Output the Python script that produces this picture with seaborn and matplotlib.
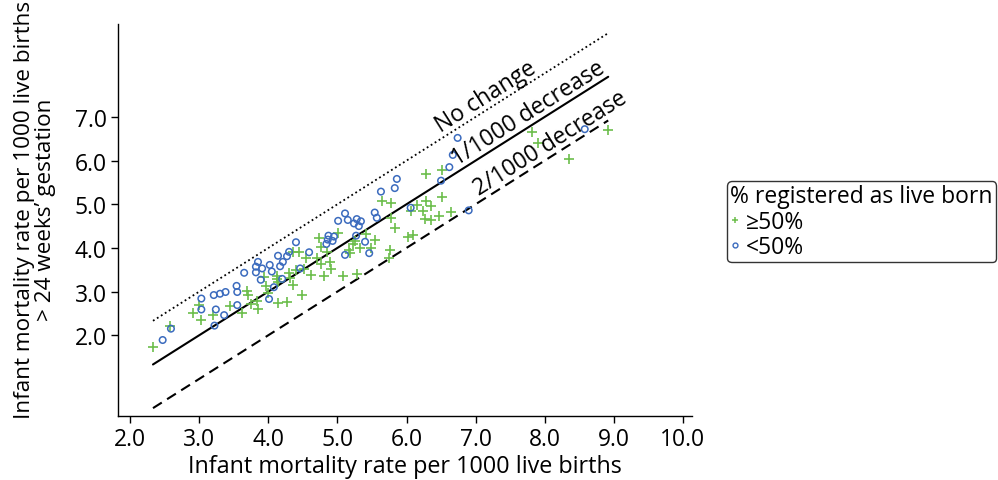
import matplotlib
matplotlib.use("Agg")
import matplotlib.pyplot as plt
import seaborn as sns
import pandas as pd
from matplotlib.lines import Line2D

sns.set_style("ticks")
plt.rcParams["font.family"] = ["Open Sans", "DejaVu Sans"]
for key in ["text.color", "axes.labelcolor", "xtick.color", "ytick.color",
            "axes.edgecolor"]:
    plt.rcParams[key] = "black"

# ---- data: >=50% registered as live born (green +) ----
hi_x = [2.33, 2.57, 2.91, 3.02, 3.00, 3.20, 3.45, 3.62, 3.69, 3.70,
        3.75, 3.84, 3.85, 3.93, 3.96, 4.00, 4.12, 4.12, 4.14, 4.14,
        4.27, 4.30, 4.31, 4.35, 4.35, 4.40, 4.44, 4.49, 4.51, 4.55,
        4.62, 4.71, 4.73, 4.76, 4.76, 4.81, 4.85, 4.89, 4.91, 5.01,
        5.08, 5.17, 5.18, 5.22, 5.26, 5.29, 5.32, 5.41, 5.49, 5.54,
        5.64, 5.78, 5.77, 5.84, 5.76, 5.75, 6.02, 6.09, 6.15, 6.07,
        6.24, 6.28, 6.36, 6.27, 6.35, 6.47, 6.65, 6.51, 6.51, 6.28,
        7.81, 7.91, 8.35, 8.92]
hi_y = [1.73, 2.20, 2.52, 2.34, 2.69, 2.46, 2.68, 2.52, 3.02, 2.93,
        2.71, 2.79, 2.60, 3.33, 3.13, 2.96, 3.36, 3.28, 3.22, 2.73,
        2.77, 3.42, 3.32, 3.15, 3.90, 3.50, 3.91, 2.93, 3.51, 3.78,
        3.38, 3.76, 4.22, 3.64, 4.03, 3.36, 3.90, 3.67, 3.51, 4.34,
        3.36, 3.95, 3.88, 4.09, 4.16, 3.40, 4.00, 4.32, 4.00, 4.18,
        5.08, 5.02, 4.69, 4.45, 3.96, 3.77, 4.26, 4.29, 4.99, 4.85,
        4.85, 5.08, 4.97, 4.66, 4.63, 4.73, 4.83, 5.16, 5.79, 5.70,
        6.66, 6.40, 6.03, 6.70]

# ---- data: <50% registered as live born (blue o) ----
lo_x = [2.47, 2.59, 3.03, 3.03, 3.24, 3.21, 3.30, 3.38, 3.36, 3.22,
        3.54, 3.55, 3.55, 3.65, 3.82, 3.85, 3.82, 3.89, 4.01, 4.02,
        3.91, 4.05, 4.17, 4.21, 4.08, 4.14, 4.27, 4.30, 4.40, 4.46,
        4.20, 4.59, 4.84, 4.86, 4.87, 4.93, 4.95, 5.11, 5.01, 5.11,
        5.15, 5.24, 5.28, 5.31, 5.34, 5.27, 5.40, 5.46, 5.54, 5.57,
        5.63, 5.83, 5.86, 6.06, 6.50, 6.62, 6.67, 6.74, 6.90, 8.58]
lo_y = [1.89, 2.15, 2.84, 2.59, 2.59, 2.92, 2.95, 2.99, 2.46, 2.22,
        3.13, 2.99, 2.69, 3.43, 3.57, 3.68, 3.44, 3.27, 2.83, 3.61,
        3.53, 3.46, 3.58, 3.68, 3.10, 3.82, 3.81, 3.91, 4.13, 3.53,
        3.29, 3.90, 4.09, 4.19, 4.28, 4.16, 4.26, 3.84, 4.62, 4.79,
        4.64, 4.56, 4.66, 4.50, 4.61, 4.28, 4.14, 3.88, 4.81, 4.69,
        5.29, 5.37, 5.58, 4.92, 5.54, 5.85, 6.13, 6.52, 4.86, 6.72]

x_ticks = [2.0, 3.0, 4.0, 5.0, 6.0, 7.0, 8.0, 9.0, 10.0]
y_ticks = [2.0, 3.0, 4.0, 5.0, 6.0, 7.0]
line_offsets = [0, 1, 2]               # decrease per 1000
line_labels = ["No change", "1/1000 decrease", "2/1000 decrease"]
label_x = [7.24, 7.86, 8.17]
group_labels = ["\u226550%", "<50%"]
legend_title = "% registered as live born"
x_label = "Infant mortality rate per 1000 live births"
y_label = "Infant mortality rate per 1000 live births\n> 24 weeks\u2019 gestation"

GREEN = "#6cbe4b"
BLUE = "#3b6bbe"
FS = 16.5

fig = plt.figure(figsize=(9.98, 4.81), dpi=100)
ax = fig.add_axes([0.1182, 0.1331, 0.5752, 0.815])

# reference lines y = x - k over the data range
all_x = hi_x + lo_x
x0, x1 = min(all_x), max(all_x)
styles = [(0, (1, 1.6)), "-", (0, (5, 3))]
widths = [1.3, 1.5, 1.5]
for k, ls, lw in zip(line_offsets, styles, widths):
    dfl = pd.DataFrame({"x": [x0, x1], "y": [x0 - k, x1 - k]})
    sns.lineplot(data=dfl, x="x", y="y", ax=ax, color="black",
                 linestyle=ls, linewidth=lw, legend=False)

df_hi = pd.DataFrame({"x": hi_x, "y": hi_y})
df_lo = pd.DataFrame({"x": lo_x, "y": lo_y})
sns.scatterplot(data=df_hi, x="x", y="y", ax=ax, marker="+", color=GREEN,
                s=50, linewidth=1.2, legend=False, zorder=3)
sns.scatterplot(data=df_lo, x="x", y="y", ax=ax, marker="o", color=BLUE,
                facecolor="none", edgecolor=BLUE, s=22, linewidth=1.1,
                legend=False, zorder=3)

for k, lab, lx in zip(line_offsets, line_labels, label_x):
    ax.text(lx, lx - k, lab, rotation=45, rotation_mode="anchor",
            transform_rotates_text=True, ha="center", va="bottom",
            fontsize=FS, color="black")

ax.set_xlim(1.823, 10.133)
ax.set_ylim(0.15, 9.13)
ax.set_xticks(x_ticks)
ax.set_xticklabels([f"{v:.1f}" for v in x_ticks], fontsize=FS)
ax.set_yticks(y_ticks)
ax.set_yticklabels([f"{v:.1f}" for v in y_ticks], fontsize=FS)
ax.tick_params(direction="out", length=5, width=1, color="black", pad=3)
sns.despine(ax=ax)
for s in ["left", "bottom"]:
    ax.spines[s].set_color("black")
    ax.spines[s].set_linewidth(1.0)

ax.set_xlabel(x_label, fontsize=16.8, labelpad=2)
ax.set_ylabel(y_label, fontsize=16.2, linespacing=1.0)
ax.yaxis.set_label_coords(-0.108, 0.528)

handles = [
    Line2D([], [], marker="+", color=GREEN, linestyle="none", markersize=5,
           markeredgewidth=1.1),
    Line2D([], [], marker="o", markerfacecolor="none", markeredgecolor=BLUE,
           linestyle="none", markersize=3.5, markeredgewidth=1.0),
]
leg = fig.legend(handles, group_labels, title=legend_title,
                 loc="upper left", bbox_to_anchor=(0.7285, 0.6216),
                 bbox_transform=fig.transFigure, borderaxespad=0,
                 fontsize=FS, title_fontsize=FS, frameon=True,
                 fancybox=True, handlelength=0.4, handletextpad=0.25,
                 borderpad=0.15, labelspacing=0.05, alignment="left")
leg.get_frame().set_edgecolor("black")
leg.get_frame().set_linewidth(1.0)

fig.savefig("out.png", dpi=100)
